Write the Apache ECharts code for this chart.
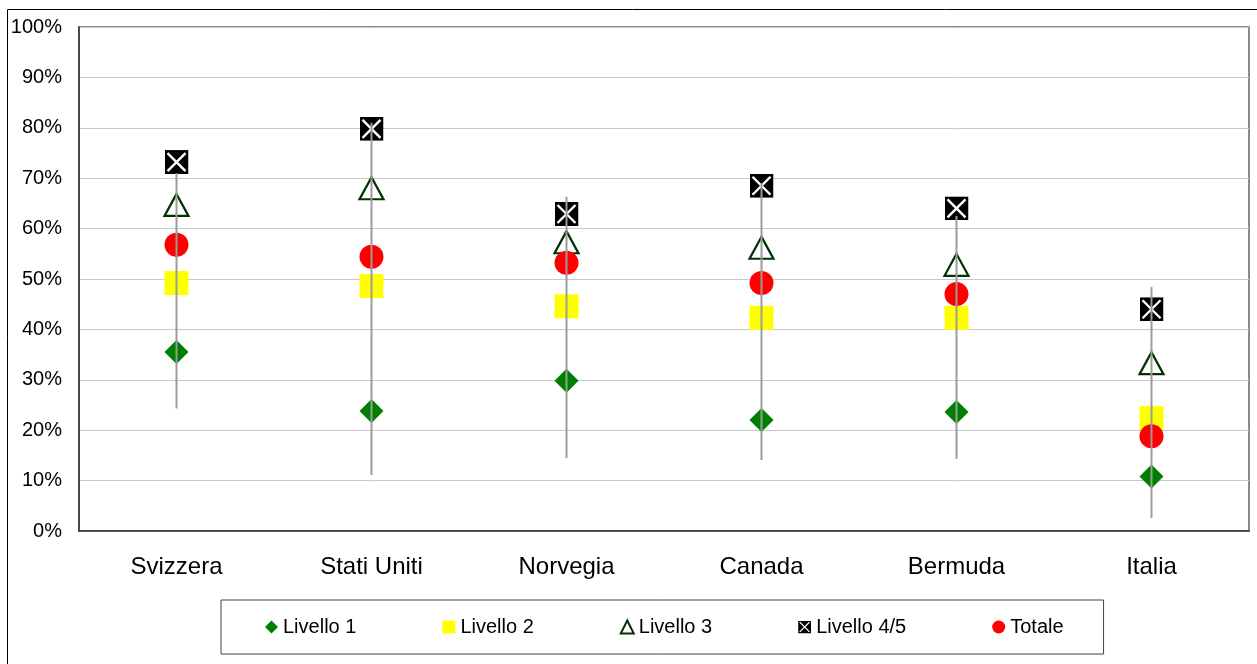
<!DOCTYPE html>
<html>
<head>
<meta charset="utf-8">
<script src="https://cdn.jsdelivr.net/npm/echarts@6/dist/echarts.min.js"></script>
<style>
html,body{margin:0;padding:0;background:#fff;}
#chart{width:1257px;height:664px;}
</style>
</head>
<body>
<div id="chart"></div>
<script>
const categories = ['Svizzera', 'Stati Uniti', 'Norvegia', 'Canada', 'Bermuda', 'Italia'];
const livello1 = [35.5, 23.8, 29.8, 22.0, 23.6, 10.8];
const livello2 = [49.2, 48.6, 44.6, 42.3, 42.3, 22.4];
const livello3 = [64.7, 68.0, 57.3, 56.2, 52.8, 33.3];
const livello45 = [73.2, 79.8, 62.9, 68.5, 64.0, 44.0];
const totale = [56.8, 54.4, 53.2, 49.2, 47.0, 18.8];
const rangeHigh = [71.0, 81.0, 66.3, 69.0, 62.5, 48.4];
const rangeLow = [24.3, 11.1, 14.5, 14.1, 14.3, 2.6];
const yTicks = [0, 10, 20, 30, 40, 50, 60, 70, 80, 90, 100];

const xIcon = 'image://data:image/svg+xml;utf8,' + encodeURIComponent(
  '<svg xmlns="http://www.w3.org/2000/svg" width="24" height="24" viewBox="0 0 24 24">' +
  '<rect x="0" y="0" width="24" height="24" fill="#000"/>' +
  '<path d="M3 3L21 21M21 3L3 21" stroke="#fff" stroke-width="2.4" fill="none"/></svg>');

const FONT = 'Liberation Sans, Arial, sans-serif';
const chart = echarts.init(document.getElementById('chart'));

const rangeData = categories.map((c, i) => [i, rangeLow[i], rangeHigh[i]]);

chart.setOption({
  animation: false,
  backgroundColor: '#fff',
  graphic: [
    { type: 'rect', shape: { x: 7.5, y: 9.5, width: 1300, height: 700 },
      style: { fill: 'none', stroke: '#000', lineWidth: 1 }, z: -10, silent: true }
  ],
  grid: { left: 79, top: 27, right: 8, bottom: 133, show: true, borderColor: '#8a8a8a', borderWidth: 2, backgroundColor: 'transparent' },
  xAxis: {
    type: 'category', data: categories, boundaryGap: true,
    axisLine: { show: true, lineStyle: { color: '#333', width: 1.5 } },
    axisTick: { show: false },
    axisLabel: { fontFamily: FONT, fontSize: 24, color: '#000', margin: 24 },
    splitLine: { show: false }
  },
  yAxis: {
    type: 'value', min: 0, max: 100, interval: 10,
    axisLine: { show: true, lineStyle: { color: '#333', width: 1.5 } },
    axisTick: { show: false },
    axisLabel: { fontFamily: FONT, fontSize: 20, color: '#000', margin: 17,
      formatter: v => yTicks.includes(v) ? v + '%' : '' },
    splitLine: { show: true, lineStyle: { color: '#c8c8c8', width: 1 } }
  },
  legend: {
    left: 221, top: 600,
    padding: [17, 40, 17, 44],
    borderColor: '#404040', borderWidth: 1,
    itemGap: 86, itemWidth: 13, itemHeight: 13,
    textStyle: { fontFamily: FONT, fontSize: 20, color: '#000' },
    data: [
      { name: 'Livello 1', icon: 'diamond' },
      { name: 'Livello 2', icon: 'rect' },
      { name: 'Livello 3', icon: 'triangle' },
      { name: 'Livello 4/5', icon: xIcon },
      { name: 'Totale', icon: 'circle' }
    ]
  },
  series: [
    {
      name: 'range', type: 'custom', data: rangeData, z: 5,
      encode: { x: 0, y: [1, 2] },
      renderItem: (params, api) => {
        const a = api.coord([api.value(0), api.value(1)]);
        const b = api.coord([api.value(0), api.value(2)]);
        return { type: 'line', shape: { x1: a[0], y1: a[1], x2: b[0], y2: b[1] },
          style: { stroke: '#9b9b9b', lineWidth: 2 } };
      }
    },
    { name: 'Livello 4/5', type: 'scatter', data: livello45, symbol: xIcon, symbolSize: 24, z: 3,
      itemStyle: { opacity: 1 } },
    { name: 'Livello 3', type: 'scatter', data: livello3, symbol: 'triangle', symbolSize: [24, 22], z: 3,
      itemStyle: { color: '#fff', borderColor: '#003300', borderWidth: 2.2, opacity: 1 } },
    { name: 'Livello 2', type: 'scatter', data: livello2, symbol: 'rect', symbolSize: 24, z: 3,
      itemStyle: { color: '#ffff00', opacity: 1 } },
    { name: 'Totale', type: 'scatter', data: totale, symbol: 'circle', symbolSize: 24, z: 4,
      itemStyle: { color: '#ff0000', opacity: 1 } },
    { name: 'Livello 1', type: 'scatter', data: livello1, symbol: 'diamond', symbolSize: 24, z: 3,
      itemStyle: { color: '#008000', opacity: 1 } }
  ]
});
</script>
</body>
</html>
